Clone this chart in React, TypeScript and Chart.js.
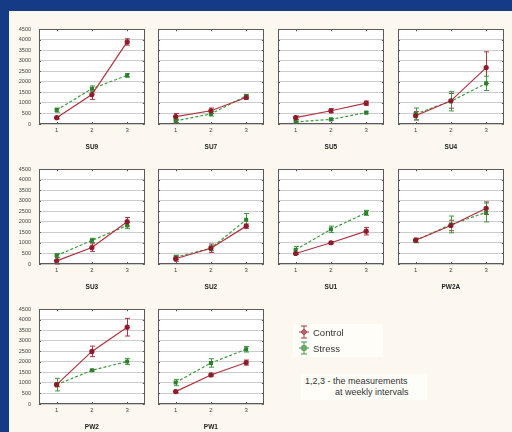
import React, { useEffect, useRef } from 'react';
import { Chart, registerables } from 'chart.js';

Chart.register(...registerables);

// ---- data ----
const categories = ['SU9', 'SU7', 'SU5', 'SU4', 'SU3', 'SU2', 'SU1', 'PW2A', 'PW2', 'PW1'];
const weeks = ['1', '2', '3'];
const yMin = 0;
const yMax = 4500;
const yStep = 500;

const controlMean = [
  [300, 1400, 3900],
  [350, 630, 1260],
  [300, 630, 990],
  [390, 1100, 2680],
  [150, 780, 2010],
  [250, 750, 1800],
  [500, 1010, 1560],
  [1130, 1830, 2650],
  [920, 2500, 3650],
  [590, 1380, 1970],
];
const controlErr = [
  [60, 230, 150],
  [150, 130, 80],
  [80, 100, 100],
  [200, 350, 750],
  [150, 180, 200],
  [120, 200, 100],
  [50, 50, 180],
  [100, 250, 300],
  [100, 250, 420],
  [60, 50, 120],
];
const stressMean = [
  [660, 1680, 2310],
  [150, 480, 1330],
  [100, 220, 540],
  [480, 1080, 1930],
  [400, 1120, 1830],
  [320, 750, 2100],
  [680, 1650, 2430],
  [1110, 1880, 2450],
  [920, 1600, 2020],
  [1020, 1950, 2600],
];
const stressErr = [
  [100, 130, 80],
  [80, 100, 80],
  [40, 40, 40],
  [280, 460, 340],
  [100, 100, 150],
  [100, 120, 300],
  [150, 150, 120],
  [100, 400, 450],
  [300, 40, 150],
  [150, 200, 130],
];
const legendLabels = ['Control', 'Stress'];
const noteLines = ['1,2,3 - the measurements', 'at weekly intervals'];

// ---- styles ----
const RED = '#b2323f';
const RED_PT = '#8e1b2b';
const GREEN = '#3d9b3d';
const GREEN_PT = '#2f7f2f';
const BLUE = '#163b86';
const CREAM = '#fcf8ef';
const FONT = "'Liberation Sans', Arial, sans-serif";

const colLeft = [39, 158, 278, 398];
const rowTop = [24, 164, 304];
const PLOT_W = 107;
const PLOT_H = 100;
const Y_AXIS_W = 30;
const X_AXIS_H = 27;
const PAD_TOP = 6;
const PAD_RIGHT = 4;

const framePlugin = {
  id: 'frameAndErrors',
  beforeDraw(chart: any) {
    const { ctx, chartArea: a } = chart;
    ctx.save();
    ctx.fillStyle = '#ffffff';
    ctx.fillRect(a.left, a.top, a.right - a.left, a.bottom - a.top);
    ctx.restore();
  },
  beforeDatasetsDraw(chart: any) {
    const { ctx } = chart;
    const ys = chart.scales.y;
    chart.data.datasets.forEach((ds: any, i: number) => {
      const meta = chart.getDatasetMeta(i);
      ctx.save();
      ctx.strokeStyle = ds.borderColor;
      ctx.lineWidth = 1;
      meta.data.forEach((pt: any, j: number) => {
        const v = ds.data[j];
        const e = ds.errors[j];
        const y1 = ys.getPixelForValue(v + e);
        const y2 = ys.getPixelForValue(v - e);
        const x = Math.round(pt.x) + 0.5;
        ctx.beginPath();
        ctx.moveTo(x, y1);
        ctx.lineTo(x, y2);
        ctx.moveTo(x - 2.5, y1);
        ctx.lineTo(x + 2.5, y1);
        ctx.moveTo(x - 2.5, y2);
        ctx.lineTo(x + 2.5, y2);
        ctx.stroke();
      });
      ctx.restore();
    });
  },
  afterDraw(chart: any) {
    const { ctx, chartArea: a } = chart;
    const xs = chart.scales.x;
    const ys = chart.scales.y;
    ctx.save();
    ctx.strokeStyle = '#5a5a5a';
    ctx.lineWidth = 1;
    ctx.strokeRect(Math.round(a.left) + 0.5, Math.round(a.top) + 0.5, Math.round(a.right - a.left) - 1, Math.round(a.bottom - a.top) - 1);
    ctx.beginPath();
    xs.ticks.forEach((_t: any, i: number) => {
      const x = Math.round(xs.getPixelForTick(i)) + 0.5;
      ctx.moveTo(x, a.top);
      ctx.lineTo(x, a.top + 2);
      ctx.moveTo(x, a.bottom);
      ctx.lineTo(x, a.bottom - 2);
    });
    ys.ticks.forEach((t: any) => {
      const y = Math.round(ys.getPixelForValue(t.value)) + 0.5;
      ctx.moveTo(a.left, y);
      ctx.lineTo(a.left + 2, y);
      ctx.moveTo(a.right, y);
      ctx.lineTo(a.right - 2, y);
    });
    ctx.stroke();
    ctx.restore();
  },
};

function Panel({ idx }: { idx: number }) {
  const ref = useRef<HTMLCanvasElement>(null);
  const col = idx % 4;
  const row = Math.floor(idx / 4);
  useEffect(() => {
    const chart = new Chart(ref.current as HTMLCanvasElement, {
      type: 'line',
      data: {
        labels: weeks,
        datasets: [
          {
            label: legendLabels[0],
            data: controlMean[idx],
            errors: controlErr[idx],
            borderColor: RED,
            backgroundColor: RED_PT,
            pointBackgroundColor: RED_PT,
            pointBorderColor: RED_PT,
            borderWidth: 1.2,
            pointStyle: 'circle',
            pointRadius: 2,
            tension: 0,
          } as any,
          {
            label: legendLabels[1],
            data: stressMean[idx],
            errors: stressErr[idx],
            borderColor: GREEN,
            backgroundColor: GREEN_PT,
            pointBackgroundColor: GREEN_PT,
            pointBorderColor: GREEN_PT,
            borderWidth: 1.2,
            borderDash: [3, 2],
            pointStyle: 'rect',
            pointRadius: 2,
            tension: 0,
          } as any,
        ],
      },
      options: {
        animation: false,
        responsive: false,
        events: [],
        layout: { padding: { top: PAD_TOP, right: PAD_RIGHT, left: 0, bottom: 0 } },
        plugins: { legend: { display: false }, tooltip: { enabled: false } },
        scales: {
          x: {
            type: 'category',
            offset: true,
            grid: { display: false, drawTicks: false },
            border: { display: false },
            ticks: { color: '#444', font: { family: FONT, size: 6 }, padding: 3, maxRotation: 0 },
            title: {
              display: true,
              text: categories[idx],
              color: '#222',
              font: { family: FONT, size: 6.5, weight: 'bold' },
              padding: { top: 0, bottom: 0 },
            },
            afterFit: (s: any) => {
              s.height = X_AXIS_H;
            },
          },
          y: {
            min: yMin,
            max: yMax,
            ticks: {
              stepSize: yStep,
              color: '#444',
              font: { family: FONT, size: 5.5 },
              padding: 8,
              callback: (v: any) => (col === 0 ? String(v) : ''),
            },
            grid: { color: '#cccccc', lineWidth: 1, drawTicks: false },
            border: { display: false },
            afterFit: (s: any) => {
              s.width = Y_AXIS_W;
            },
          },
        },
      } as any,
      plugins: [framePlugin],
    });
    return () => chart.destroy();
  }, [idx, col]);
  const w = Y_AXIS_W + PLOT_W + PAD_RIGHT;
  const h = PAD_TOP + PLOT_H + X_AXIS_H;
  return (
    <canvas
      ref={ref}
      width={w}
      height={h}
      style={{ position: 'absolute', left: colLeft[col] - Y_AXIS_W, top: rowTop[row] - PAD_TOP, width: w, height: h }}
    />
  );
}

function LegendIcon({ color, ptColor, square }: { color: string; ptColor: string; square: boolean }) {
  return (
    <svg width={12} height={16} style={{ display: 'block' }}>
      <line x1={6} y1={2} x2={6} y2={14} stroke={color} strokeWidth={1} />
      <line x1={3} y1={2} x2={9} y2={2} stroke={color} strokeWidth={1} />
      <line x1={3} y1={14} x2={9} y2={14} stroke={color} strokeWidth={1} />
      <line x1={1} y1={8} x2={11} y2={8} stroke={color} strokeWidth={1} />
      {square ? (
        <rect x={4} y={6} width={4} height={4} fill="none" stroke={ptColor} strokeWidth={1} />
      ) : (
        <circle cx={6} cy={8} r={2.2} fill="none" stroke={ptColor} strokeWidth={1} />
      )}
    </svg>
  );
}

export default function App() {
  return (
    <div style={{ position: 'fixed', left: 0, top: 0, width: 512, height: 432, background: BLUE, overflow: 'hidden' }}>
      <div style={{ position: 'absolute', left: 9, top: 11, right: 0, bottom: 0, background: CREAM }} />
      {categories.map((_, i) => (
        <Panel key={i} idx={i} />
      ))}
      <div style={{ position: 'absolute', left: 293, top: 324, width: 90, height: 33, background: '#fffdf8' }} />
      <div style={{ position: 'absolute', left: 298, top: 324, fontFamily: FONT, fontSize: 9.5, color: '#333' }}>
        <div style={{ display: 'flex', alignItems: 'center', height: 16 }}>
          <LegendIcon color={RED} ptColor={RED_PT} square={false} />
          <span style={{ marginLeft: 3 }}>{legendLabels[0]}</span>
        </div>
        <div style={{ display: 'flex', alignItems: 'center', height: 16 }}>
          <LegendIcon color={GREEN} ptColor={GREEN_PT} square={true} />
          <span style={{ marginLeft: 3 }}>{legendLabels[1]}</span>
        </div>
      </div>
      <div
        style={{
          position: 'absolute',
          left: 301,
          top: 374,
          width: 118,
          fontFamily: FONT,
          fontSize: 9,
          lineHeight: '11px',
          color: '#333',
          background: '#fffdf8',
          padding: '2px 4px',
        }}
      >
        <div>{noteLines[0]}</div>
        <div style={{ paddingLeft: 30 }}>{noteLines[1]}</div>
      </div>
    </div>
  );
}
